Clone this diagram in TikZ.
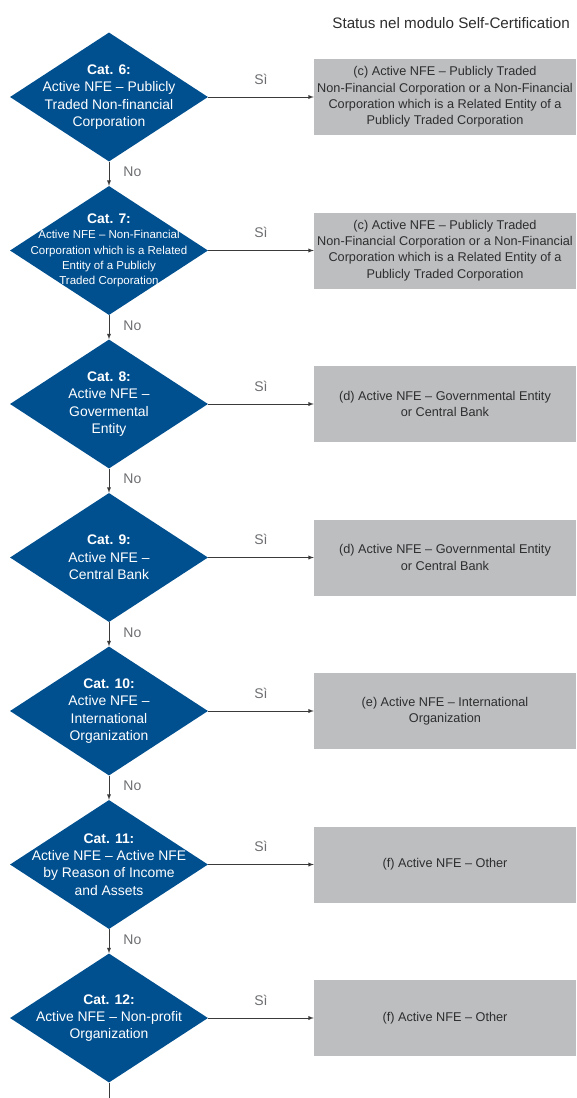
\documentclass[tikz,border=0pt]{standalone}
\usepackage{fontspec}
\setmainfont{Liberation Sans}
\usetikzlibrary{shapes.geometric,arrows,calc,positioning}
\definecolor{catblue}{HTML}{004F8F}
\definecolor{boxgray}{HTML}{BCBEC0}
\definecolor{boxtext}{HTML}{2E2E2E}
\definecolor{labelgray}{HTML}{6D6E71}
\definecolor{linegray}{HTML}{3A3A3A}
\newcommand{\catfont}{\fontsize{13.9}{17.4}\selectfont}
\tikzset{
  decision/.style={diamond, fill=catblue, minimum width=198pt, minimum height=129pt, inner sep=0pt},
  dtext/.style={text=white, align=center, inner sep=0pt, font=\catfont},
  dsmall/.style={text=white, align=center, inner sep=0pt, font=\fontsize{11.5}{15.3}\selectfont},
  status/.style={rectangle, fill=boxgray, minimum width=262pt, minimum height=76pt, inner sep=0pt, align=center, text=boxtext, font=\fontsize{12.7}{16.3}\selectfont},
  flow/.style={-latex, draw=linegray, line width=0.9pt},
  answer/.style={text=labelgray, inner sep=0pt, font=\fontsize{14}{16}\selectfont}
}

\begin{document}
\begin{tikzpicture}[x=1pt,y=-1pt]
\useasboundingbox (0,0) rectangle (576,1098);
\node (title) [anchor=east, text=boxtext, font=\fontsize{15.2}{17}\selectfont, inner sep=0pt] at (570,23) {Status nel modulo Self-Certification};
% decisions
\node (d6)  [decision] at (109,97)    {};
\node (d7)  [decision] at (109,250.5) {};
\node (d8)  [decision] at (109,404)   {};
\node (d9)  [decision] at (109,557.5) {};
\node (d10) [decision] at (109,711)   {};
\node (d11) [decision] at (109,864.5) {};
\node (d12) [decision] at (109,1018)  {};
\node (t6)  [dtext] at (d6)  {\textbf{Cat. 6:}\\Active NFE -- Publicly\\Traded Non-financial\\Corporation};
\node (t7)  [dsmall] at (d7) {\catfont\textbf{Cat. 7:}\\Active NFE -- Non-Financial\\Corporation which is a Related\\Entity of a Publicly\\Traded Corporation};
\node (t8)  [dtext] at (d8)  {\textbf{Cat. 8:}\\Active NFE --\\Govermental\\Entity};
\node (t9)  [dtext] at (d9)  {\textbf{Cat. 9:}\\Active NFE --\\Central Bank};
\node (t10) [dtext] at (d10) {\textbf{Cat. 10:}\\Active NFE --\\International\\Organization};
\node (t11) [dtext] at (d11) {\textbf{Cat. 11:}\\Active NFE -- Active NFE\\by Reason of Income\\and Assets};
\node (t12) [dtext] at (d12) {\textbf{Cat. 12:}\\Active NFE -- Non-profit\\Organization};
% status boxes
\node (r6)  [status] at (445,97)    {(c) Active NFE -- Publicly Traded\\Non-Financial Corporation or a Non-Financial\\Corporation which is a Related Entity of a\\Publicly Traded Corporation};
\node (r7)  [status] at (445,250.5) {(c) Active NFE -- Publicly Traded\\Non-Financial Corporation or a Non-Financial\\Corporation which is a Related Entity of a\\Publicly Traded Corporation};
\node (r8)  [status] at (445,404)   {(d) Active NFE -- Governmental Entity\\or Central Bank};
\node (r9)  [status] at (445,557.5) {(d) Active NFE -- Governmental Entity\\or Central Bank};
\node (r10) [status] at (445,711)   {(e) Active NFE -- International\\Organization};
\node (r11) [status] at (445,864.5) {(f) Active NFE -- Other};
\node (r12) [status] at (445,1018)  {(f) Active NFE -- Other};
% yes
\draw [flow] (d6)  -- (r6)  node (s6)  [answer, midway, above=12pt] {Sì};
\draw [flow] (d7)  -- (r7)  node (s7)  [answer, midway, above=12pt] {Sì};
\draw [flow] (d8)  -- (r8)  node (s8)  [answer, midway, above=12pt] {Sì};
\draw [flow] (d9)  -- (r9)  node (s9)  [answer, midway, above=12pt] {Sì};
\draw [flow] (d10) -- (r10) node (s10) [answer, midway, above=12pt] {Sì};
\draw [flow] (d11) -- (r11) node (s11) [answer, midway, above=12pt] {Sì};
\draw [flow] (d12) -- (r12) node (s12) [answer, midway, above=12pt] {Sì};
% no
\draw [flow] (d6)  -- (d7)  node (n6)  [answer, midway, right=14pt, yshift=2pt] {No};
\draw [flow] (d7)  -- (d8)  node (n7)  [answer, midway, right=14pt, yshift=2pt] {No};
\draw [flow] (d8)  -- (d9)  node (n8)  [answer, midway, right=14pt, yshift=2pt] {No};
\draw [flow] (d9)  -- (d10) node (n9)  [answer, midway, right=14pt, yshift=2pt] {No};
\draw [flow] (d10) -- (d11) node (n10) [answer, midway, right=14pt, yshift=2pt] {No};
\draw [flow] (d11) -- (d12) node (n11) [answer, midway, right=14pt, yshift=2pt] {No};
\coordinate (out) at (109,1098);
\draw [draw=linegray, line width=0.9pt] (d12) -- (out);
\end{tikzpicture}
\end{document}
